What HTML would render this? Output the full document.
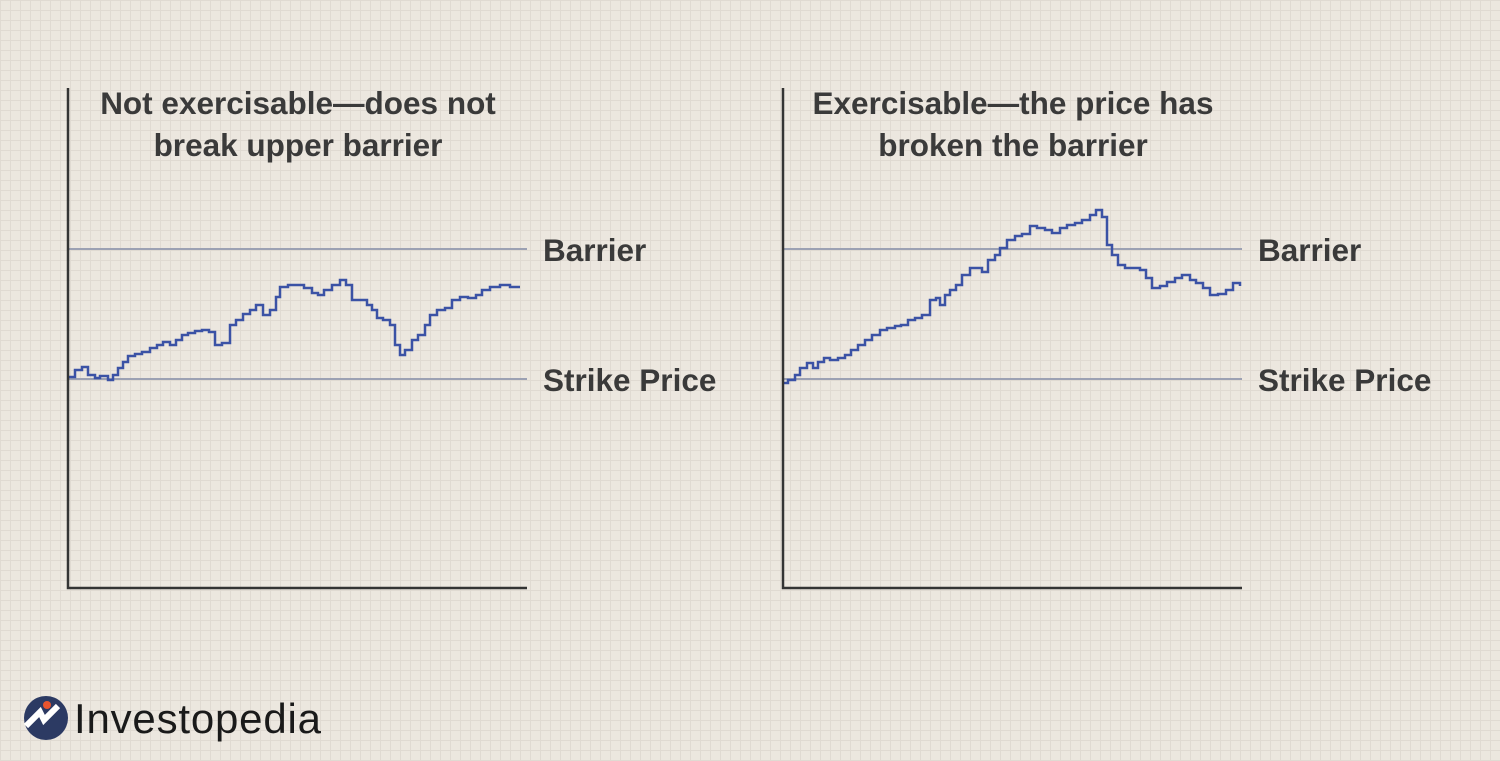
<!DOCTYPE html>
<html><head><meta charset="utf-8"><style>
html,body{margin:0;padding:0}
body{width:1500px;height:761px;overflow:hidden;background-color:#ece7df;
background-image:linear-gradient(#e0dad2 1px,transparent 1px),linear-gradient(90deg,#e0dad2 1px,transparent 1px);background-size:10px 10px;font-family:"Liberation Sans",sans-serif}
</style></head><body>
<svg width="1500" height="761" style="position:absolute;left:0;top:0">
<g id="left"></g>
<g id="right"></g>
<g>
<circle cx="46" cy="718" r="22" fill="#2c3a63"/>
<path d="M26 726 L40 712 L44 720 L58 706" stroke="#fff" stroke-width="6" fill="none"/>
<circle cx="47" cy="705" r="4" fill="#e8542e"/>
<text x="74" y="733" font-size="42" letter-spacing="0.8" fill="#1a1a1a">Investopedia</text>
</g>
</svg>
<script>
const leftX=[69,75,82,88,95,100,108,113,118,123,128,135,142,150,157,163,170,176,182,188,195,202,209,215,222,230,236,243,250,256,263,270,276,280,288,296,304,312,318,324,332,340,346,352,360,367,372,377,383,390,395,400,405,412,418,425,430,437,445,452,460,468,476,482,490,500,510,520];
const leftY=[377,370,367,375,378,376,380,375,368,362,356,354,352,348,345,342,345,340,335,333,331,330,332,345,343,325,320,314,310,305,315,310,297,287,285,285,288,293,295,290,285,280,285,300,300,305,310,318,320,325,345,355,350,340,335,325,315,310,308,300,297,298,295,290,287,285,287,287];
const rightX=[783,788,795,800,807,813,818,824,830,838,845,851,858,865,872,880,887,895,901,908,915,922,930,936,940,945,950,956,962,970,976,982,988,995,1000,1007,1015,1022,1030,1037,1045,1052,1060,1067,1075,1082,1090,1096,1102,1107,1112,1118,1125,1132,1140,1146,1152,1160,1167,1175,1182,1190,1196,1203,1210,1218,1226,1233,1240];
const rightY=[383,380,375,368,363,368,362,358,360,358,355,350,345,340,335,330,328,326,325,320,318,315,300,298,305,295,290,285,275,268,268,272,260,255,248,240,236,234,226,228,230,233,228,225,223,220,215,210,217,245,255,265,268,268,270,278,288,286,282,278,275,280,283,288,295,294,290,283,286];
const NS='http://www.w3.org/2000/svg';
function mk(g,tag,a,txt){const e=document.createElementNS(NS,tag);for(const k in a)e.setAttribute(k,a[k]);if(txt)e.textContent=txt;g.appendChild(e);return e;}
function chart(id,x0,t1,t2,xs,ys){
 const g=document.getElementById(id);const x1=x0+459;
 let e=mk(g,'line',{x1:x0,y1:249,x2:x1,y2:249,stroke:'#9ca1b3','stroke-width':2});
 
 
 e=mk(g,'line',{x1:x0,y1:379,x2:x1,y2:379,stroke:'#9ca1b3','stroke-width':2});
 
 
 let d='M'+xs[0]+' '+ys[0];
 for(let i=1;i<xs.length;i++){d+=' H'+xs[i]+' V'+ys[i];}
 e=mk(g,'path',{d:d,stroke:'#3b52a5','stroke-width':2.5,fill:'none'});
 
 
 e=mk(g,'path',{d:`M${x0} 88 V588 H${x1}`,stroke:'#333','stroke-width':2.5,fill:'none'});
 
 
 const cx=x0+230;
 e=mk(g,'text',{x:cx,y:114,'text-anchor':'middle','font-size':31.5,'font-weight':'bold',fill:'#3a3a3a'},t1);
 
 
 e=mk(g,'text',{x:cx,y:156,'text-anchor':'middle','font-size':31.5,'font-weight':'bold',fill:'#3a3a3a'},t2);
 
 
 e=mk(g,'text',{x:x1+16,y:261,'font-size':31.5,'font-weight':'bold',fill:'#3a3a3a'},'Barrier');
 
 
 e=mk(g,'text',{x:x1+16,y:391,'font-size':31.5,'font-weight':'bold',fill:'#3a3a3a'},'Strike Price');
 
 
}
chart('left',68,'Not exercisable\u2014does not','break upper barrier',leftX,leftY);
chart('right',783,'Exercisable\u2014the price has','broken the barrier',rightX,rightY);
</script>
</body></html>
